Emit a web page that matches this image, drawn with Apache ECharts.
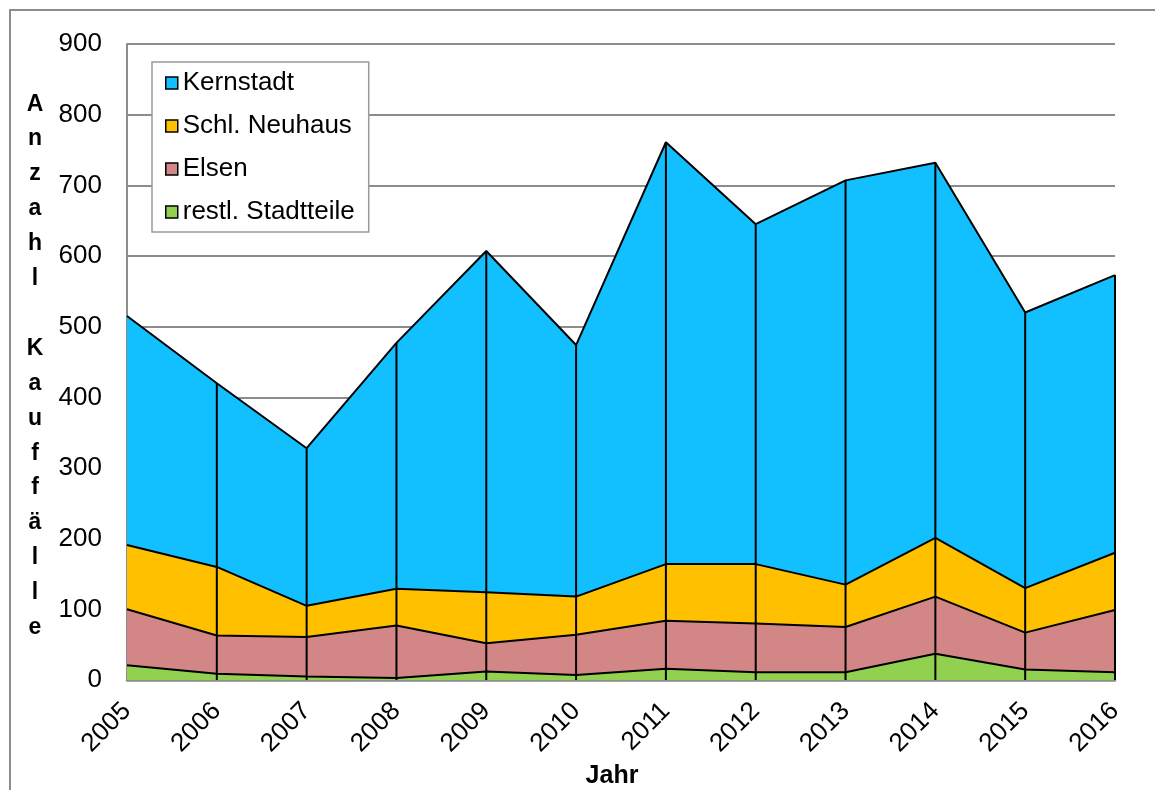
<!DOCTYPE html>
<html>
<head>
<meta charset="utf-8">
<script src="https://cdn.jsdelivr.net/npm/echarts@6/dist/echarts.min.js"></script>
<style>
html,body{margin:0;padding:0;background:#fff;}
#main{width:1155px;height:790px;}
</style>
</head>
<body>
<div id="main"></div>
<script>
var years = ['2005','2006','2007','2008','2009','2010','2011','2012','2013','2014','2015','2016'];
var restl = [21, 9, 5, 3, 12, 7, 16, 11, 11, 37, 15, 11];
var elsen = [79, 54, 56, 74, 40, 57, 68, 69, 64, 81, 52, 88];
var neuhaus = [91, 97, 44, 52, 72, 54, 80, 84, 60, 83, 63, 81];
var kernstadt = [324, 260, 223, 348, 483, 356, 597, 481, 572, 531, 390, 393];
var yTicks = [0, 100, 200, 300, 400, 500, 600, 700, 800, 900];

var fontName = '"Liberation Sans", Arial, sans-serif';

// Summe je Jahr fuer die senkrechten Linien
var totals = [];
for (var i = 0; i < years.length; i++) {
	totals.push([i, restl[i] + elsen[i] + neuhaus[i] + kernstadt[i]]);
}

function areaSeries(name, data, color) {
	return {
		name: name,
		type: 'line',
		stack: 'gesamt',
		data: data,
		symbol: 'none',
		itemStyle: { color: color },
		lineStyle: { color: '#000', width: 2 },
		areaStyle: { color: color, opacity: 1 },
		emphasis: { disabled: true },
		z: 2
	};
}

var myChart = echarts.init(document.getElementById('main'));
var option = {
	animation: false,
	textStyle: { fontFamily: fontName, color: '#000' },
	graphic: [{
		type: 'rect',
		shape: { x: 10, y: 10, width: 1400, height: 1000 },
		style: { fill: 'none', stroke: '#8c8c8c', lineWidth: 2 },
		z: -1
	}, {
		type: 'text',
		x: 35,
		y: 366,
		style: {
			text: 'Anzahl Kauffälle'.split('').join('\n'),
			font: 'bold 23px ' + fontName,
			fill: '#000',
			align: 'center',
			verticalAlign: 'middle',
			lineHeight: 34.9
		}
	}, {
		type: 'text',
		x: 612,
		y: 776,
		style: {
			text: 'Jahr',
			font: 'bold 25px ' + fontName,
			fill: '#000',
			align: 'center',
			verticalAlign: 'middle'
		}
	}],
	legend: {
		data: ['Kernstadt', 'Schl. Neuhaus', 'Elsen', 'restl. Stadtteile'],
		orient: 'vertical',
		left: 152,
		top: 62,
		padding: [8, 14, 7, 13],
		itemGap: 17,
		itemWidth: 12,
		itemHeight: 12,
		itemTextGap: 7,
		icon: 'rect',
		itemStyle: { borderColor: '#000', borderWidth: 1.5 },
		backgroundColor: '#fff',
		borderColor: '#999',
		borderWidth: 1.5,
		borderRadius: 0,
		selectedMode: false,
		textStyle: { fontSize: 26, fontFamily: fontName, color: '#000' },
		z: 10
	},
	grid: { left: 127, right: 40, top: 44, bottom: 110, containLabel: false },
	xAxis: {
		type: 'category',
		data: years,
		boundaryGap: false,
		axisLine: { lineStyle: { color: '#8c8c8c', width: 2.5 } },
		axisTick: { show: false },
		axisLabel: { rotate: 45, fontSize: 26, margin: 27, color: '#000', fontFamily: fontName },
		splitLine: { show: false }
	},
	yAxis: {
		type: 'value',
		min: yTicks[0],
		max: yTicks[yTicks.length - 1],
		interval: 100,
		axisLine: { show: true, lineStyle: { color: '#8c8c8c', width: 2 } },
		axisTick: { show: false },
		axisLabel: { fontSize: 26, margin: 25, color: '#000', fontFamily: fontName },
		splitLine: { lineStyle: { color: '#8c8c8c', width: 2 } }
	},
	series: [
		areaSeries('restl. Stadtteile', restl, '#92d050'),
		areaSeries('Elsen', elsen, '#d38686'),
		areaSeries('Schl. Neuhaus', neuhaus, '#ffc000'),
		areaSeries('Kernstadt', kernstadt, '#13c0ff'),
		{
			name: 'Linien',
			type: 'custom',
			data: totals,
			z: 5,
			silent: true,
			renderItem: function (params, api) {
				var idx = api.value(0);
				if (idx === 0) return null;
				var p0 = api.coord([idx, 0]);
				var p1 = api.coord([idx, api.value(1)]);
				return {
					type: 'line',
					shape: { x1: p0[0], y1: p0[1], x2: p1[0], y2: p1[1] },
					style: { stroke: '#000', lineWidth: 2 }
				};
			}
		}
	]
};
myChart.setOption(option, true);
</script>
</body>
</html>
